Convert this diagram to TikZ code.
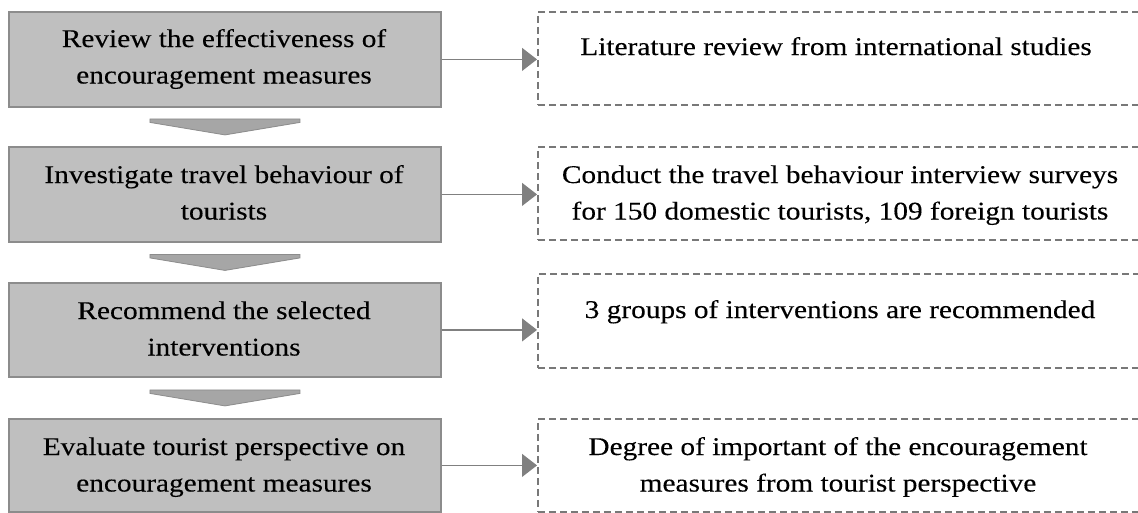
\documentclass[tikz,border=0pt]{standalone}
\usepackage{fontspec}
\setmainfont{Liberation Serif}[FakeBold=0.2]
\usetikzlibrary{arrows.meta,calc}
\definecolor{boxfill}{RGB}{191,191,191}
\definecolor{boxline}{RGB}{140,140,140}
\definecolor{chevfill}{RGB}{166,166,166}
\definecolor{linecol}{RGB}{128,128,128}
\definecolor{dashcol}{RGB}{120,120,120}
\newcommand\twolines[2]{\begin{tabular}[t]{@{}c@{}}#1\\#2\end{tabular}}
\begin{document}
\begin{tikzpicture}[x=1pt,y=-1pt,
  stepbox/.style={draw=boxline, line width=1.8pt, fill=boxfill, minimum width=432pt,
    inner sep=0pt, anchor=north west},
  outbox/.style={draw=dashcol, line width=1.8pt, dash pattern=on 7pt off 4pt,
    minimum width=606pt, inner sep=0pt, anchor=north west},
  txt/.style={inner sep=0pt, anchor=base, xscale=1.15, transform shape,
    font=\fontsize{25.5}{36.5}\selectfont},
  conn/.style={draw=linecol, line width=1.2pt, -{Triangle[length=15pt,width=23pt]}},
  chev/.style={fill=chevfill, draw=boxline, line width=0.8pt}]
\useasboundingbox (0,0) rectangle (1138,512);

% left step boxes
\node[stepbox, minimum height=95pt] (s1) at (8,11) {};
\node[stepbox, minimum height=95pt] (s2) at (8,146) {};
\node[stepbox, minimum height=94pt] (s3) at (8,282) {};
\node[stepbox, minimum height=93pt] (s4) at (8,418) {};

% right dashed boxes
\node[outbox, minimum height=93pt] (r1) at (537,11) {};
\node[outbox, minimum height=93pt] (r2) at (537,146) {};
\node[outbox, minimum height=94pt] (r3) at (537,273) {};
\node[outbox, minimum height=93pt] (r4) at (537,418) {};

% texts
\node[txt] (t1) at (224,47) {\twolines{Review the effectiveness of}{encouragement measures}};
\node[txt] (t2) at (224,183) {\twolines{Investigate travel behaviour of}{tourists}};
\node[txt] (t3) at (224,319) {\twolines{Recommend the selected}{interventions}};
\node[txt] (t4) at (224,455) {\twolines{Evaluate tourist perspective on}{encouragement measures}};

\node[txt] (u1) at (836,55) {Literature review from international studies};
\node[txt] (u2) at (840,183) {\twolines{Conduct the travel behaviour interview surveys}{for 150 domestic tourists, 109 foreign tourists}};
\node[txt] (u3) at (840,318) {3 groups of interventions are recommended};
\node[txt] (u4) at (838,455) {\twolines{Degree of important of the encouragement}{measures from tourist perspective}};

% connectors
\draw[conn] (s1.east) -- (s1.east -| r1.west);
\draw[conn] (s2.east) -- (s2.east -| r2.west);
\draw[conn] (s3.east) -- (s3.east -| r3.west);
\draw[conn] (s4.east) -- (s4.east -| r4.west);

% chevrons between steps
\foreach \a/\b in {s1/s2, s2/s3, s3/s4}{
  \coordinate (m) at ($(\a.south)!0.5!(\b.north)$);
  \draw[chev] ($(m)+(-75,-8)$) -- ($(m)+(75,-8)$) -- ($(m)+(75,-4.5)$)
    -- ($(m)+(0,8)$) -- ($(m)+(-75,-4.5)$) -- cycle;
}
\end{tikzpicture}
\end{document}
